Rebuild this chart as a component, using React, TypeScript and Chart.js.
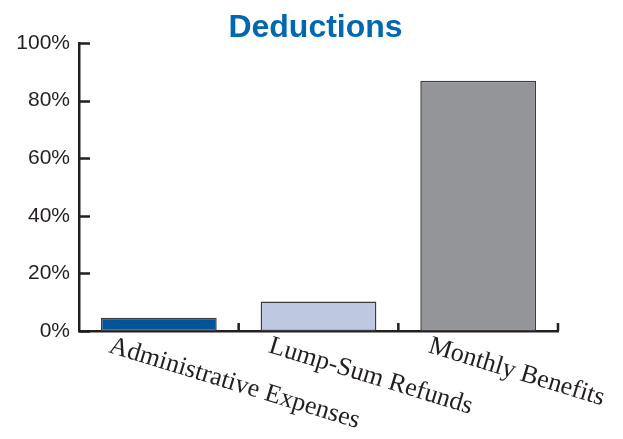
import { useEffect, useRef } from 'react';
import { Chart, registerables } from 'chart.js';

Chart.register(...registerables);

const categories = ['Administrative Expenses', 'Lump-Sum Refunds', 'Monthly Benefits'];
const shares = [4.6, 10.2, 86.9];
const barColors = ['#00559a', '#bec8e1', '#939598'];
const yTickValues = [0, 20, 40, 60, 80, 100];
const chartTitle = 'Deductions';

const INK = '#231f20';
const TITLE_BLUE = '#0068b3';

const decorPlugin = {
  id: 'decor',
  afterDraw(chart: any) {
    const { ctx, chartArea, scales } = chart;
    const x = scales.x;
    const y = scales.y;
    ctx.save();
    // tick marks (inward)
    ctx.strokeStyle = INK;
    ctx.lineWidth = 2.5;
    ctx.beginPath();
    yTickValues.forEach((v) => {
      const py = Math.round(y.getPixelForValue(v)) + 0.5;
      ctx.moveTo(chartArea.left, py);
      ctx.lineTo(chartArea.left + 11, py);
    });
    const n = categories.length;
    for (let i = 1; i <= n; i++) {
      const px = i < n ? (x.getPixelForValue(i - 1) + x.getPixelForValue(i)) / 2 : chartArea.right;
      ctx.moveTo(px, chartArea.bottom);
      ctx.lineTo(px, chartArea.bottom - 8);
    }
    ctx.stroke();

    // rotated category labels
    ctx.fillStyle = INK;
    ctx.font = '26px "Liberation Serif", "Times New Roman", serif';
    ctx.textAlign = 'left';
    ctx.textBaseline = 'alphabetic';
    categories.forEach((c, i) => {
      const px = x.getPixelForValue(i);
      ctx.save();
      ctx.translate(px - 51, chartArea.bottom + 21);
      ctx.rotate((17 * Math.PI) / 180);
      ctx.fillText(c, 0, 0);
      ctx.restore();
    });

    // title
    ctx.fillStyle = TITLE_BLUE;
    ctx.font = 'bold 32px "Liberation Sans", Arial, sans-serif';
    ctx.textAlign = 'center';
    ctx.fillText(chartTitle, chart.width / 2 + 4, 37);
    ctx.restore();
  },
};

export default function App() {
  const ref = useRef<HTMLCanvasElement | null>(null);
  useEffect(() => {
    if (!ref.current) return;
    const chart = new Chart(ref.current, {
      type: 'bar',
      data: {
        labels: categories,
        datasets: [
          {
            data: shares,
            backgroundColor: barColors,
            borderColor: '#3c3c3e',
            borderWidth: 1.5,
            borderSkipped: false,
            categoryPercentage: 1,
            barPercentage: 0.725,
          },
        ],
      },
      options: {
        responsive: false,
        animation: false,
        devicePixelRatio: 1,
        layout: { padding: { top: 43, right: 65, bottom: 108, left: 0 } },
        plugins: { legend: { display: false }, title: { display: false }, tooltip: { enabled: false } },
        scales: {
          x: {
            grid: { display: false, drawTicks: false, drawOnChartArea: false },
            border: { display: true, color: INK, width: 2.5 },
            ticks: { display: false },
          },
          y: {
            min: 0,
            max: 100,
            afterFit: (scale: any) => {
              scale.width = 79;
            },
            afterBuildTicks: (scale: any) => {
              scale.ticks = yTickValues.map((v) => ({ value: v }));
            },
            grid: { display: false, drawTicks: false, drawOnChartArea: false },
            border: { display: true, color: INK, width: 2.5 },
            ticks: {
              padding: 9,
              color: INK,
              font: { family: '"Liberation Sans", Arial, sans-serif', size: 21 },
              callback: (v: any) => `${v}%`,
            },
          },
        },
      },
      plugins: [decorPlugin],
    });
    return () => chart.destroy();
  }, []);
  return (
    <canvas
      ref={ref}
      width={623}
      height={439}
      style={{ position: 'fixed', left: 0, top: 0, width: 623, height: 439 }}
    />
  );
}
